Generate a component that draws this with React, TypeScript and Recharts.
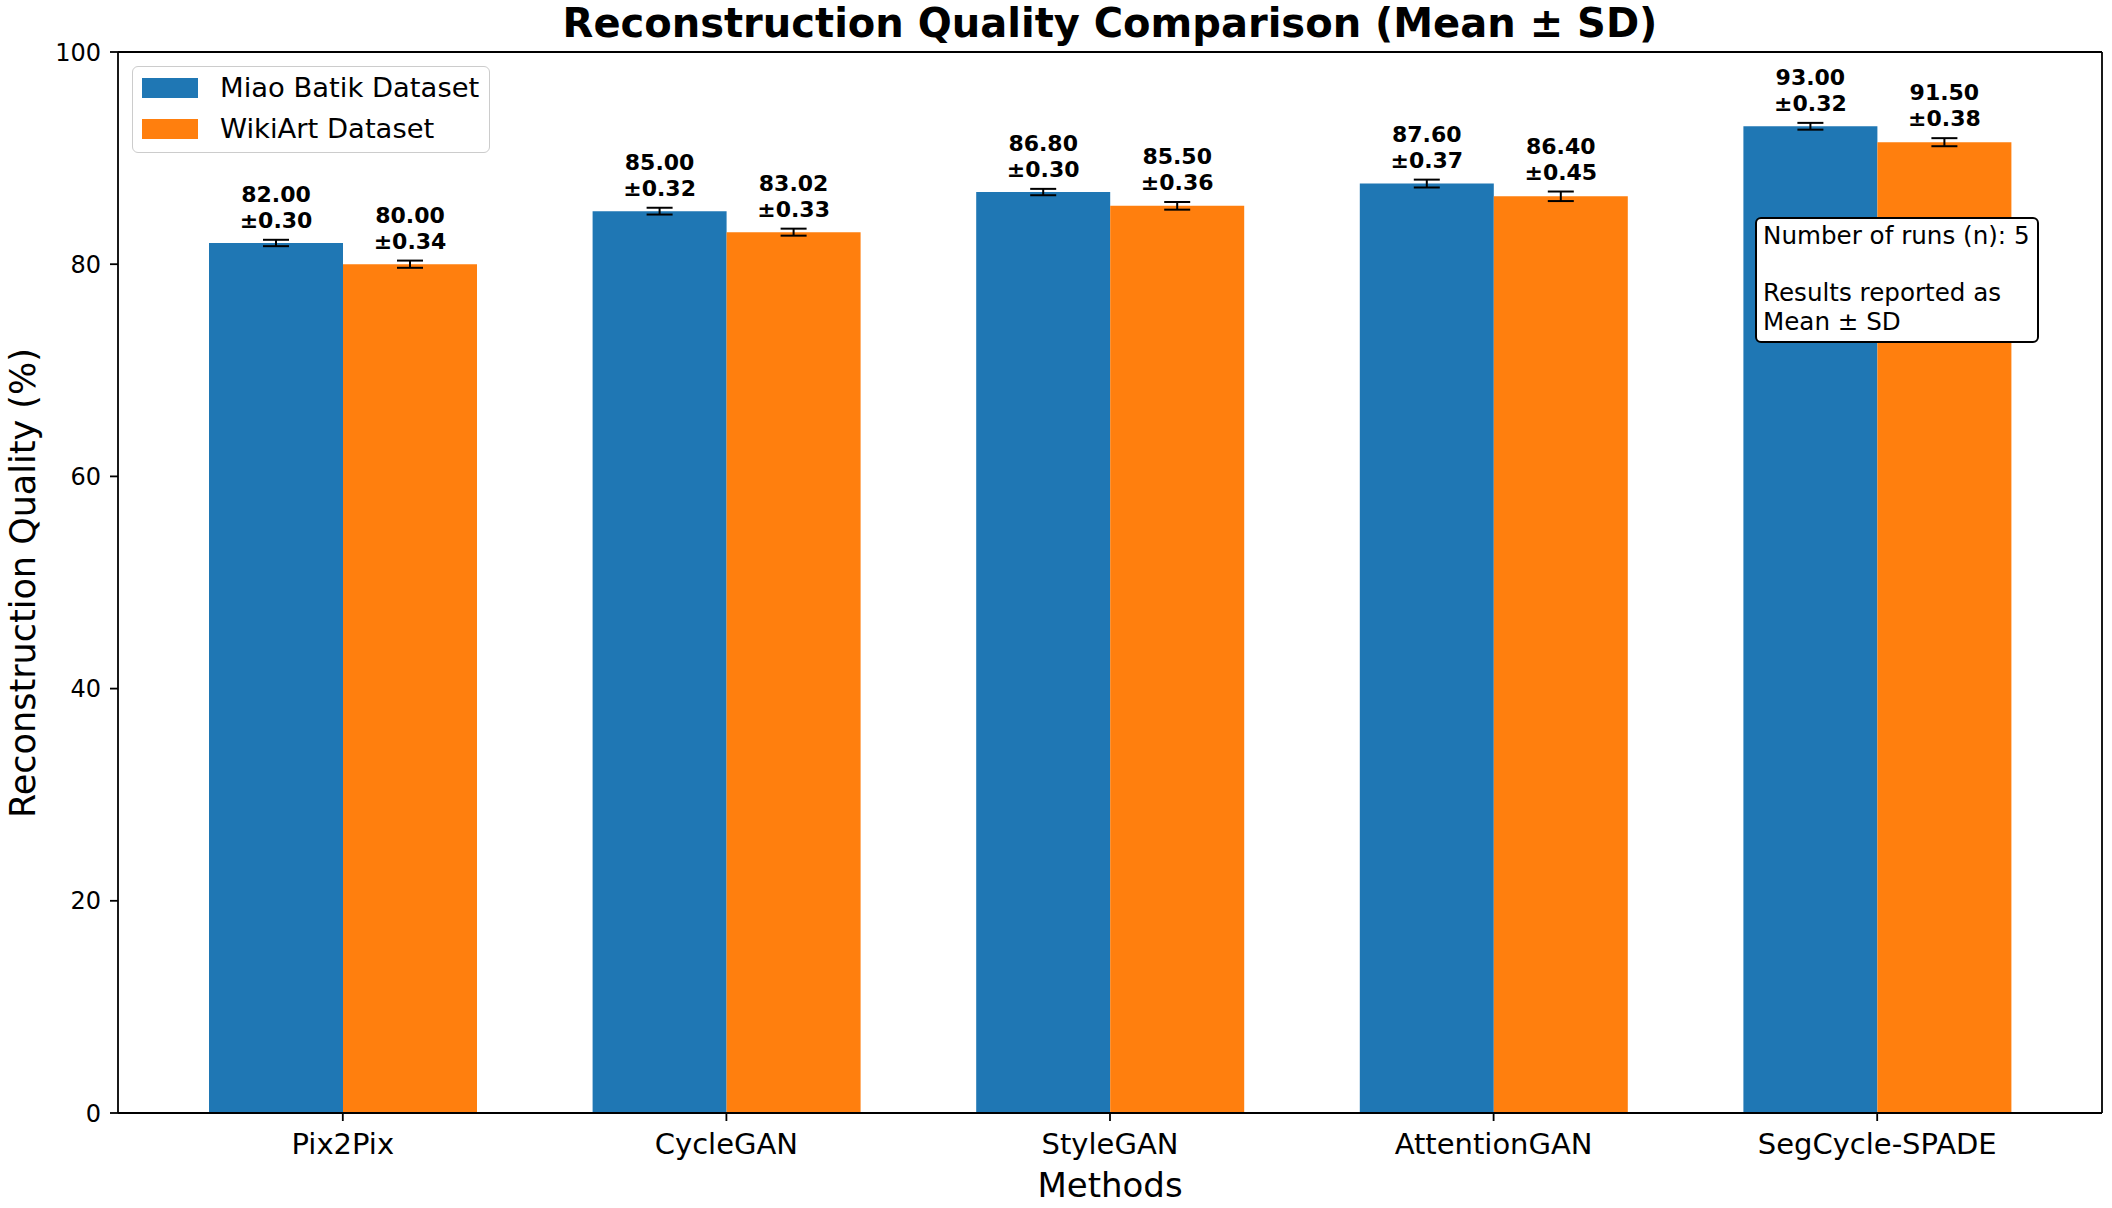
import React from 'react';
import { BarChart, Bar, XAxis, YAxis, ErrorBar, LabelList } from 'recharts';

const methods = ['Pix2Pix', 'CycleGAN', 'StyleGAN', 'AttentionGAN', 'SegCycle-SPADE'];
const miaoMean = [82.0, 85.0, 86.8, 87.6, 93.0];
const miaoSd = [0.3, 0.32, 0.3, 0.37, 0.32];
const wikiMean = [80.0, 83.02, 85.5, 86.4, 91.5];
const wikiSd = [0.34, 0.33, 0.36, 0.45, 0.38];
const yTicks = [0, 20, 40, 60, 80, 100];
const seriesNames = ['Miao Batik Dataset', 'WikiArt Dataset'];
const seriesColors = ['#1f77b4', '#ff7f0e'];

const data = methods.map((m, i) => ({
  method: m,
  miao: miaoMean[i],
  miaoSd: miaoSd[i],
  wiki: wikiMean[i],
  wikiSd: wikiSd[i],
}));

const FONT = 'DejaVu Sans';

const makeLabel = (sds: number[]) => (props: any) => {
  const vb = props.viewBox || {};
  const x = Number(props.x ?? vb.x);
  const y = Number(props.y ?? vb.y);
  const width = Number(props.width ?? vb.width);
  const height = Number(props.height ?? vb.height);
  const value = Number(props.value);
  const index = props.index;
  const sd = sds[index];
  const ppu = height / value;
  const errTop = y - sd * ppu;
  const cx = x + width / 2;
  const b2 = errTop - 12;
  return (
    <text textAnchor="middle" fontFamily={FONT} fontWeight="bold" fontSize={22} fill="#000">
      <tspan x={cx} y={b2 - 26}>{value.toFixed(2)}</tspan>
      <tspan x={cx} y={b2}>±{sd.toFixed(2)}</tspan>
    </text>
  );
};

export default function App() {
  return (
    <div style={{ position: 'relative', width: 2112, height: 1208, background: '#fff', fontFamily: FONT }}>
      <style>{'body{margin:0;}'}</style>
      <BarChart
        width={2112}
        height={1208}
        data={data}
        margin={{ top: 51, right: 9, bottom: 35, left: 38 }}
        barGap={0}
      >
        <XAxis
          dataKey="method"
          height={60}
          padding={{ left: 33, right: 33 }}
          axisLine={{ stroke: '#000', strokeWidth: 1.8 }}
          tickLine={{ stroke: '#000', strokeWidth: 1.8 }}
          tickSize={8}
          tickMargin={12}
          tick={{ fontSize: 29, fill: '#000', fontFamily: FONT }}
          interval={0}
        />
        <XAxis
          xAxisId="top"
          dataKey="method"
          orientation="top"
          height={1}
          tick={false}
          tickLine={false}
          axisLine={{ stroke: '#000', strokeWidth: 1.8 }}
        />
        <YAxis
          width={80}
          domain={[0, 100]}
          ticks={yTicks}
          axisLine={{ stroke: '#000', strokeWidth: 1.8 }}
          tickLine={{ stroke: '#000', strokeWidth: 1.8 }}
          tickSize={8}
          tickMargin={9}
          tick={{ fontSize: 24, fill: '#000', fontFamily: FONT }}
          allowDataOverflow
        />
        <YAxis
          yAxisId="right"
          orientation="right"
          width={1}
          domain={[0, 100]}
          tick={false}
          tickLine={false}
          axisLine={{ stroke: '#000', strokeWidth: 1.8 }}
        />
        <Bar dataKey="miao" name={seriesNames[0]} fill={seriesColors[0]} barSize={134} isAnimationActive={false}>
          <ErrorBar dataKey="miaoSd" width={13} strokeWidth={2} stroke="#000" direction="y" isAnimationActive={false} />
          <LabelList dataKey="miao" content={makeLabel(miaoSd)} />
        </Bar>
        <Bar dataKey="wiki" name={seriesNames[1]} fill={seriesColors[1]} barSize={134} isAnimationActive={false}>
          <ErrorBar dataKey="wikiSd" width={13} strokeWidth={2} stroke="#000" direction="y" isAnimationActive={false} />
          <LabelList dataKey="wiki" content={makeLabel(wikiSd)} />
        </Bar>
      </BarChart>

      {/* Title */}
      <div
        style={{
          position: 'absolute', left: 118, width: 1984, top: 0, textAlign: 'center',
          fontSize: 40, fontWeight: 'bold', lineHeight: '46px', color: '#000', whiteSpace: 'nowrap',
        }}
      >
        Reconstruction Quality Comparison (Mean ± SD)
      </div>

      {/* Y label */}
      <div
        style={{
          position: 'absolute', left: 23 - 300, top: 583 - 20, width: 600, height: 40,
          lineHeight: '40px', textAlign: 'center', fontSize: 35, color: '#000',
          transform: 'rotate(-90deg)', transformOrigin: '300px 20px', whiteSpace: 'nowrap',
        }}
      >
        Reconstruction Quality (%)
      </div>

      {/* X label */}
      <div
        style={{
          position: 'absolute', left: 118, width: 1984, top: 1165, textAlign: 'center',
          fontSize: 34, lineHeight: '40px', color: '#000',
        }}
      >
        Methods
      </div>

      {/* Legend */}
      <div
        style={{
          position: 'absolute', left: 132, top: 66, width: 358, height: 87,
          border: '1.5px solid #cccccc', borderRadius: 6, background: 'rgba(255,255,255,0.8)',
          boxSizing: 'border-box',
        }}
      >
        {seriesNames.map((n, i) => (
          <div key={n} style={{ position: 'absolute', left: 9, top: 10 + i * 41, height: 21, display: 'flex', alignItems: 'center' }}>
            <div style={{ width: 56, height: 20, background: seriesColors[i] }} />
            <div style={{ marginLeft: 22, fontSize: 27.4, lineHeight: '21px', color: '#000', whiteSpace: 'nowrap' }}>{n}</div>
          </div>
        ))}
      </div>

      {/* Annotation box */}
      <div
        style={{
          position: 'absolute', left: 1755, top: 217, width: 284, height: 126,
          border: '2px solid #000', borderRadius: 6, background: '#fff', boxSizing: 'border-box',
          padding: '3px 6px', fontSize: 24.6, lineHeight: '28.5px', color: '#000', whiteSpace: 'pre-line',
        }}
      >
        {'Number of runs (n): 5\n\nResults reported as\nMean ± SD'}
      </div>
    </div>
  );
}
